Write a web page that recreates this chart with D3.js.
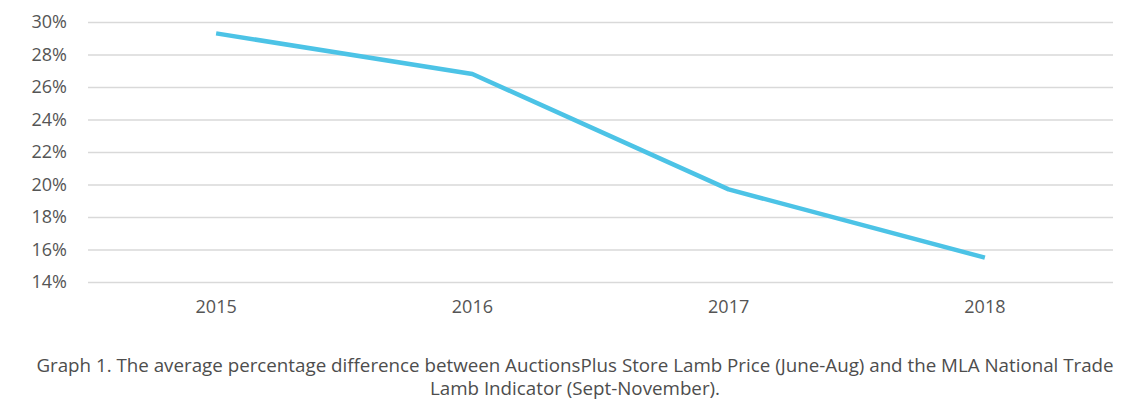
<!DOCTYPE html>
<html>
<head>
<meta charset="utf-8">
<script src="https://cdn.jsdelivr.net/npm/d3@7/dist/d3.min.js"></script>
<style>
  html, body { margin: 0; padding: 0; background: #fff; }
  svg { display: block; }
</style>
</head>
<body>
<svg id="chart" width="1135" height="409"></svg>
<script>
const categories = ["2015", "2016", "2017", "2018"];
const values = [29.3, 26.8, 19.7, 15.5];
const yTicks = [14, 16, 18, 20, 22, 24, 26, 28, 30];
const captionLines = [
  "Graph 1. The average percentage difference between AuctionsPlus Store Lamb Price (June-Aug) and the MLA National Trade",
  "Lamb Indicator (Sept-November)."
];

(function () {
const svg = d3.select("#chart");
const mLeft = 88, mRight = 1113, mTop = 22, mBottom = 282;

const x = d3.scaleBand().domain(categories).range([mLeft, mRight]);
const y = d3.scaleLinear().domain([14, 30]).range([mBottom, mTop]);

// gridlines
const yAxis = d3.axisLeft(y).tickValues(yTicks).tickFormat(d => d + "%")
  .tickSize(-(mRight - mLeft)).tickPadding(21);
const gy = svg.append("g").attr("transform", `translate(${mLeft},0)`).call(yAxis);
gy.select(".domain").remove();
gy.selectAll(".tick line").attr("stroke", "#d9d9d9").attr("stroke-width", 1.5);
gy.selectAll(".tick text")
  .attr("fill", "#555")
  .style("font-family", "'Open Sans', sans-serif")
  .style("font-size", "18px");

// x axis labels
const xAxis = d3.axisBottom(x).tickSize(0).tickPadding(18);
const gx = svg.append("g").attr("transform", `translate(0,${mBottom})`).call(xAxis);
gx.select(".domain").remove();
gx.selectAll(".tick text")
  .attr("fill", "#555")
  .style("font-family", "'Open Sans', sans-serif")
  .style("font-size", "18px");

// line
const line = d3.line()
  .x((d, i) => x(categories[i]) + x.bandwidth() / 2)
  .y(d => y(d));
svg.append("path")
  .datum(values)
  .attr("d", line)
  .attr("fill", "none")
  .attr("stroke", "#4cc3e6")
  .attr("stroke-width", 4.5)
  .attr("stroke-linejoin", "round");

// caption
const cap = svg.append("g");
captionLines.forEach((t, i) => {
  cap.append("text")
    .attr("x", 575)
    .attr("y", 372 + i * 23)
    .attr("text-anchor", "middle")
    .attr("fill", "#4d4d4d")
    .style("font-family", "'Open Sans', sans-serif")
    .style("font-size", "16px")
    .text(t);
});
const first = cap.select("text").node();
const w = first.getComputedTextLength();
const fs = 16 * 1078 / w;
cap.selectAll("text").style("font-size", fs + "px");
})();
</script>
</body>
</html>
